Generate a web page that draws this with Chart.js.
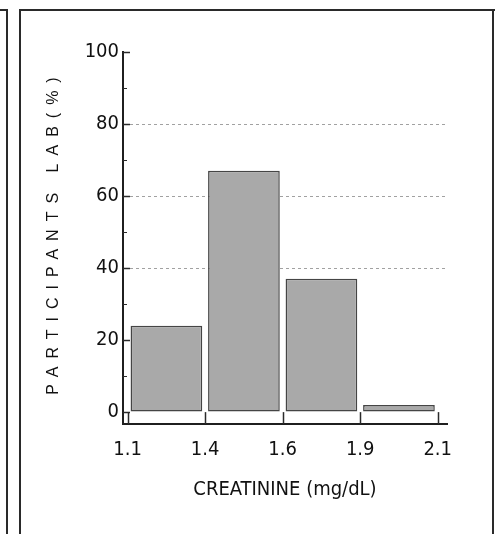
<!DOCTYPE html>
<html lang="en">
<head>
  <meta charset="UTF-8" />
  <title>Creatinine histogram</title>
  <script src="https://cdn.jsdelivr.net/npm/chart.js"></script>
  <style>
    html, body {
      margin: 0;
      background: #fff;
      width: 498px;
      height: 534px;
      overflow: hidden;
    }

    .wrap {
      position: relative;
      width: 498px;
      height: 534px;
    }

    .line {
      position: absolute;
      background: #2a2a2a;
    }
  </style>
</head>
<body>
  <div class="wrap">
    <canvas id="chart" width="498" height="534"></canvas>
    <!-- scanned page frame -->
    <div class="line" style="left:0;top:9px;width:8px;height:2px"></div>
    <div class="line" style="left:6px;top:9px;width:2px;height:525px"></div>
    <div class="line" style="left:19px;top:9px;width:476px;height:2px"></div>
    <div class="line" style="left:19px;top:9px;width:2px;height:525px"></div>
    <div class="line" style="left:492px;top:9px;width:2px;height:525px"></div>
  </div>

  <script>
    // bin edges (mg/dL) and share of participants per bin (%)
    const binEdges = ['1.1', '1.4', '1.6', '1.9', '2.1'];
    const participants = [24, 67, 37, 2];
    const yTicks = [0, 20, 40, 60, 80, 100];
    const yMinorTicks = [10, 30, 50, 70, 90];
    const gridValues = [40, 60, 80];

    const narrow = "'Liberation Sans Narrow', 'DejaVu Sans Condensed', 'Arial Narrow', sans-serif";

    // tick marks pointing into the plot, plus the spaced y title
    const axisDecor = {
      id: 'axisDecor',
      afterDraw(chart) {
        const { ctx, chartArea, scales } = chart;
        const x = scales.x, y = scales.y;
        const zeroY = y.getPixelForValue(0);
        ctx.save();
        ctx.strokeStyle = '#2a2a2a';
        ctx.lineWidth = 1.5;
        binEdges.forEach((_, i) => {
          const px = Math.round(x.getPixelForValue(i)) + 0.5;
          ctx.beginPath();
          ctx.moveTo(px, chartArea.bottom);
          ctx.lineTo(px, zeroY);
          ctx.stroke();
        });
        yTicks.forEach(v => {
          const py = Math.round(y.getPixelForValue(v)) + 0.5;
          ctx.beginPath();
          ctx.moveTo(chartArea.left, py);
          ctx.lineTo(chartArea.left + 7, py);
          ctx.stroke();
        });
        ctx.lineWidth = 1;
        yMinorTicks.forEach(v => {
          const py = Math.round(y.getPixelForValue(v)) + 0.5;
          ctx.beginPath();
          ctx.moveTo(chartArea.left, py);
          ctx.lineTo(chartArea.left + 4, py);
          ctx.stroke();
        });

        ctx.translate(54, 236);
        ctx.rotate(-Math.PI / 2);
        ctx.font = "16px 'Liberation Sans', Arial, sans-serif";
        ctx.letterSpacing = '8px';
        ctx.fillStyle = '#111';
        ctx.textAlign = 'center';
        ctx.textBaseline = 'middle';
        ctx.fillText('PARTICIPANTS LAB(%)', 4, 0);
        ctx.restore();
      }
    };

    new Chart(document.getElementById('chart'), {
      type: 'bar',
      data: {
        datasets: [{
          data: participants.map((v, i) => ({ x: i + 0.5, y: v })),
          backgroundColor: '#a9a9a9',
          borderColor: '#454545',
          borderWidth: 1.5,
          borderSkipped: false,
          barPercentage: 0.925,
          categoryPercentage: 1
        }]
      },
      options: {
        responsive: false,
        animation: false,
        layout: { padding: { left: 83, right: 51, top: 52, bottom: 0 } },
        plugins: {
          legend: { display: false },
          tooltip: { enabled: false }
        },
        scales: {
          x: {
            type: 'linear',
            offset: false,
            min: -0.06,
            max: 4.12,
            afterBuildTicks(scale) {
              scale.ticks = binEdges.map((_, i) => ({ value: i }));
            },
            afterFit(scale) { scale.height = 110; },
            grid: { display: false, drawTicks: false, offset: false },
            border: { display: true, color: '#1f1f1f', width: 2 },
            ticks: {
              padding: 14,
              maxRotation: 0,
              color: '#111',
              font: { family: narrow, size: 20 },
              callback: v => binEdges[v] ?? ''
            },
            title: {
              display: true,
              text: 'CREATININE (mg/dL)',
              color: '#111',
              font: { family: narrow, size: 20 },
              padding: { top: 4, bottom: 32 }
            }
          },
          y: {
            min: -3.3,
            max: 100,
            afterBuildTicks(scale) {
              scale.ticks = yTicks.map(v => ({ value: v }));
            },
            afterFit(scale) { scale.width = 40; },
            grid: {
              drawTicks: false,
              color: c => gridValues.includes(c.tick && c.tick.value) ? 'rgba(130,130,130,0.75)' : 'rgba(0,0,0,0)',
              lineWidth: 1
            },
            border: { display: true, color: '#1f1f1f', width: 2, dash: [3, 3] },
            ticks: {
              padding: 4,
              color: '#111',
              font: { family: narrow, size: 20 }
            }
          }
        }
      },
      plugins: [axisDecor]
    });
  </script>
</body>
</html>
